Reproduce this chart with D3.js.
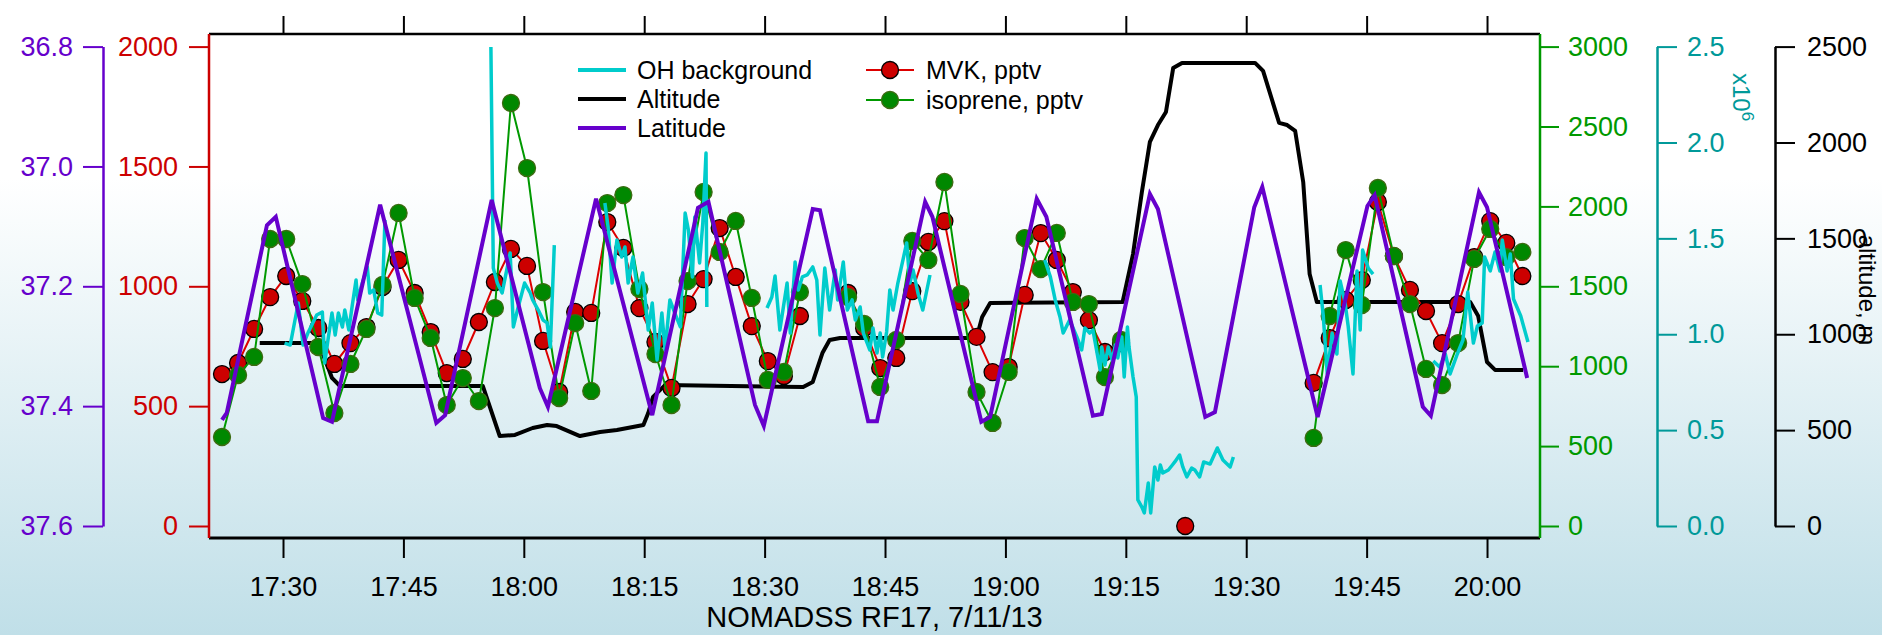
<!DOCTYPE html>
<html>
<head>
<script src="https://cdnjs.cloudflare.com/ajax/libs/d3/7.8.5/d3.min.js"></script>
<style>
  body { margin: 0; }
  svg text { font-family: "Liberation Sans", Arial, Helvetica, sans-serif; }
</style>
</head>
<body>
<script>
// all times are minutes after 17:00 UTC, 11 July 2013
var timeTicks = ["17:30", "17:45", "18:00", "18:15", "18:30", "18:45", "19:00", "19:15", "19:30", "19:45", "20:00"];

var chemTime = [22.4, 24.4, 26.4, 28.4, 30.4, 32.4, 34.4, 36.4, 38.4, 40.4, 42.4, 44.4, 46.4, 48.4, 50.4,
  52.4, 54.4, 56.4, 58.4, 60.4, 62.4, 64.4, 66.4, 68.4, 70.4, 72.4, 74.4, 76.4, 78.4, 80.4, 82.4, 84.4,
  86.4, 88.4, 90.4, 92.4, 94.4, 96.4, 98.4, 100.4, 102.4, 104.4, 106.4, 108.4, 110.4, 112.4, 114.4, 116.4,
  118.4, 120.4, 122.4, 124.4, 126.4, 128.4, 130.4, 132.4, 134.4, 136.4, 138.4, 140.4, 142.4, 144.4, 146.4,
  148.4, 150.4, 152.4, 154.4, 156.4, 158.4, 160.4, 162.4, 164.4, 166.4, 168.4, 170.4, 172.4, 174.4, 176.4,
  178.4, 180.4, 182.4, 184.4];

var mvk = [634, 680, 822, 955, 1043, 939, 826, 676, 763, 830, 997, 1110, 972, 809, 638,
  697, 851, 1018, 1156, 1085, 772, 559, 893, 889, 1268, 1160, 909, 768, 576, 926, 1030, 1243,
  1039, 834, 688, 626, 876, null, null, 972, 826, 659, 701, 980, 1185, 1272, 935, 789,
  642, 663, 964, 1222, 1110, 976, 859, 726, 763, null, null, null, 0, null, null,
  null, null, null, null, null, 597, 784, 943, 1026, 1352, 1126, 985, 897, 763, 926,
  1122, 1272, 1181, 1043];

var isoprene = [557, 945, 1058, 1796, 1796, 1514, 1120, 707, 1014, 1233, 1508, 1959, 1427, 1177, 757,
  926, 782, 1364, 2647, 2240, 1464, 801, 1270, 845, 2021, 2071, 1483, 1076, 757, 1533, 2090, 1715,
  1909, 1427, 914, 964, 1464, null, null, 1433, 1264, 870, 1164, 1784, 1665, 2153, 1452, 839,
  645, 964, 1802, 1608, 1834, 1402, 1389, 932, 1164, null, null, null, null, null, null,
  null, null, null, null, null, 551, 1314, 1727, 1383, 2115, 1690, 1389, 983, 882, 1145,
  1671, 1859, 1683, 1715];

var latTime = [22.4, 23.0, 28.0, 29.1, 35.0, 36.1, 42.1, 49.1, 50.2, 56.0, 62.0, 63.0, 69.0, 76.0,
  81.7, 83.0, 88.8, 89.9, 96.0, 96.9, 102.9, 104.0, 110.0, 110.9, 117.0, 118.1, 123.9, 125.1,
  130.9, 132.0, 138.0, 139.0, 144.9, 146.1, 151.0, 152.0, 158.9, 165.1, 166.0, 172.0, 173.0,
  179.0, 180.0, 185.0];
var latitude = [37.423, 37.411, 37.098, 37.084, 37.420, 37.426, 37.064, 37.428, 37.415, 37.056,
  37.370, 37.401, 37.054, 37.415, 37.069, 37.059, 37.398, 37.433, 37.071, 37.073, 37.425, 37.425,
  37.059, 37.084, 37.426, 37.418, 37.054, 37.084, 37.416, 37.413, 37.046, 37.071, 37.418, 37.410,
  37.068, 37.034, 37.418, 37.066, 37.048, 37.401, 37.416, 37.043, 37.068, 37.353];

var altTime = [27.1, 34.0, 34.6, 35.6, 36.1, 37.1, 54.9, 57.0, 58.9, 61.1, 62.9, 64.1, 67.0, 69.5,
  71.6, 74.9, 75.5, 76.1, 77.6, 94.8, 96.0, 97.2, 98.1, 99.4, 115.6, 116.5, 117.1, 118.1, 134.6,
  135.9, 137.0, 138.0, 139.0, 140.0, 140.9, 142.0, 151.1, 152.1, 154.1, 155.1, 156.1, 157.1,
  157.9, 158.8, 177.9, 178.9, 180.0, 181.0, 184.5];
var altitude = [954, 954, 933, 829, 772, 730, 730, 469, 475, 511, 527, 521, 469, 490,
  501, 527, 589, 673, 735, 725, 751, 902, 970, 980, 980, 996, 1090, 1163, 1168,
  1418, 1742, 2003, 2091, 2159, 2388, 2415, 2415, 2373, 2102, 2091, 2060, 1794,
  1314, 1168, 1168, 1095, 855, 814, 814];

// OH background, x10^6 molec/cm3; null marks a gap in the record
var ohTime = [30.2, 30.9, 31.9, 32.5, 33.1, 34.2, 34.9, 35.2, 35.6, 36.1, 36.5, 36.9, 37.4, 37.7,
  38.2, 38.6, 39.1, 39.3, 39.8, 40.5, 40.8, 41.3, 41.8, 42.3, 42.7, 49,
  55.9, 56.2, 56.7, 57.3, 57.7, 58.3, 58.7, 59.3, 60.1, 60.8, 61.1, 61.8, 62.4, 62.9, 63.3, 63.8, 67,
  70.1, 70.5, 71.0, 71.6, 72.2, 72.6, 73.0, 73.6, 74.2, 74.8, 75.5, 76.0, 76.6, 77.2, 77.6, 78.2,
  78.8, 79.5, 80.1, 80.5, 81.0, 81.3, 81.9, 82.3, 82.7, 82.8, 86,
  90.3, 90.9, 91.3, 91.9, 92.8, 93.2, 93.8, 94.2, 94.7, 95.3, 96.0, 96.5, 96.9, 97.5, 98.1, 98.8,
  99.1, 99.8, 100.3, 100.9, 101.3, 101.9, 102.3, 103.1, 103.5, 104.0, 104.4, 104.7, 105.2, 105.6,
  106.0, 106.6, 107.7, 108.1, 108.5, 109.1, 109.7, 110.6, 117,
  124.9, 125.6, 126.2, 126.8, 127.2, 128.0, 128.9, 129.5, 129.9, 130.5, 130.9, 131.4, 131.8, 132.0,
  132.4, 132.8, 133.3, 133.7, 134.0, 134.5, 134.8, 135.2, 135.4, 135.9, 136.3, 136.5, 137.0, 137.3,
  137.8, 138.1, 138.6, 139.0, 139.3, 139.6, 140.3, 140.8, 141.1, 141.7, 142.1, 142.6, 143.2, 143.6,
  144.2, 144.7, 145.5, 146.4, 147.1, 148.0, 148.4, 152,
  159.2, 159.6, 160.1, 160.7, 161.3, 161.7, 162.3, 162.7, 163.3, 163.8, 164.2, 164.5, 165.2, 165.8, 170,
  173.3, 174.1, 174.8, 175.4, 176.3, 177.0, 177.6, 178.3, 178.8, 179.4, 179.7, 180.4, 181.0, 181.6,
  181.9, 182.5, 182.9, 183.3, 184.2, 185.1];
var ohValue = [0.954, 0.944, 1.163, 0.944, 1.006, 1.100, 1.116, 0.850, 0.970, 1.111, 0.996, 1.111, 1.038, 1.126,
  1.022, 1.142, 1.283, 1.179, 1.257, 1.351, 1.215, 1.231, 1.111, 1.100, 1.596, null,
  2.498, 1.345, 1.267, 1.215, 1.299, 1.424, 1.038, 1.142, 1.267, 1.215, 1.179, 1.126, 1.074, 1.059, 0.933, 1.465, null,
  1.684, 1.559, 1.267, 1.492, 1.403, 1.455, 1.267, 1.403, 1.215, 1.319, 1.022, 1.163, 0.866, 1.111, 0.918, 1.179,
  1.111, 1.038, 1.632, 1.544, 1.299, 1.611, 1.372, 1.580, 1.945, 1.142, null,
  1.137, 1.194, 1.304, 1.022, 1.267, 1.006, 1.377, 1.231, 1.299, 1.309, 1.351, 1.283, 0.996, 1.345, 1.126, 1.335,
  1.179, 1.377, 1.126, 1.179, 1.074, 1.142, 1.006, 0.918, 1.033, 0.902, 1.006, 0.881, 1.012, 1.231,
  1.126, 1.267, 1.476, 1.267, 1.335, 1.215, 1.126, 1.309, null,
  1.387, 1.299, 1.179, 1.090, 1.006, 1.074, 0.986, 0.918, 1.033, 1.006, 1.022, 0.907, 0.814, 0.933,
  0.840, 0.933, 0.866, 0.944, 0.876, 0.986, 0.777, 1.038, 0.933, 0.777, 0.673, 0.136, 0.099, 0.068,
  0.224, 0.068, 0.308, 0.240, 0.318, 0.276, 0.292, 0.318, 0.334, 0.370, 0.308, 0.256, 0.302, 0.292,
  0.256, 0.334, 0.323, 0.407, 0.344, 0.308, 0.360, null,
  1.257, 1.095, 0.793, 1.006, 0.897, 1.278, 1.168, 1.043, 0.793, 1.330, 1.022, 1.439, 1.345, 1.314, null,
  0.860, 0.829, 0.897, 0.793, 0.897, 0.970, 1.220, 0.954, 1.043, 1.059, 1.403, 1.330, 1.429, 1.330,
  1.492, 1.330, 1.418, 1.184, 1.095, 0.960];

var W = 1882, H = 635;
var L = 209, R = 1540, T = 34, B = 538;
var Y0 = 526, Y1 = 46.6;

var purple = "#6600cc", red = "#cc0000", green = "#009900", teal = "#009999",
    cyan = "#00cccc";

var base = Date.UTC(2013, 6, 11, 17, 0);
function at(m) { return new Date(base + m * 60000); }
function hm(s) { var p = s.split(":"); return at(+p[0] * 60 + +p[1] - 17 * 60); }

var x = d3.scaleUtc().domain([at(20.78), at(186.6)]).range([L, R]);
var yMvk = d3.scaleLinear().domain([0, 2000]).range([Y0, Y1]);
var yIso = d3.scaleLinear().domain([0, 3000]).range([Y0, Y1]);
var yAlt = d3.scaleLinear().domain([0, 2500]).range([Y0, Y1]);
var yOH = d3.scaleLinear().domain([0, 2.5]).range([Y0, Y1]);
var yLat = d3.scaleLinear().domain([37.6, 36.8]).range([Y0, Y1]);

var svg = d3.select("body").append("svg").attr("width", W).attr("height", H);

var grad = svg.append("defs").append("linearGradient")
    .attr("id", "bg").attr("x1", 0).attr("y1", 0).attr("x2", 0).attr("y2", 1);
grad.append("stop").attr("offset", 0).attr("stop-color", "#ffffff");
grad.append("stop").attr("offset", 0.28).attr("stop-color", "#ffffff");
grad.append("stop").attr("offset", 1).attr("stop-color", "#c0dfe8");
svg.select("defs").append("clipPath").attr("id", "plot")
    .append("rect").attr("x", L).attr("y", T).attr("width", R - L).attr("height", B - T);

svg.append("rect").attr("width", W).attr("height", H).attr("fill", "url(#bg)");

var intFmt = d3.format("d");

function styleAxis(g, color) {
  g.selectAll("path").attr("stroke", color).attr("stroke-width", 2.5);
  g.selectAll(".tick line").attr("stroke", color).attr("stroke-width", 2);
  g.selectAll("text").attr("fill", color).style("font-size", "27px");
}

// time axes
var tickDates = timeTicks.map(hm);
svg.append("g").attr("transform", "translate(0," + B + ")")
    .call(d3.axisBottom(x).tickValues(tickDates).tickFormat(d3.utcFormat("%H:%M"))
      .tickSize(20).tickPadding(19).tickSizeOuter(0))
    .call(function (g) { styleAxis(g, "#000"); g.select(".domain").remove(); });
svg.append("g").attr("transform", "translate(0," + T + ")")
    .call(d3.axisTop(x).tickValues(tickDates).tickFormat("").tickSize(18).tickSizeOuter(0))
    .call(function (g) { styleAxis(g, "#000"); g.select(".domain").remove(); });

// frame
svg.append("line").attr("x1", L).attr("x2", R).attr("y1", T).attr("y2", T)
    .attr("stroke", "#000").attr("stroke-width", 2.5);
svg.append("line").attr("x1", L).attr("x2", R).attr("y1", B).attr("y2", B)
    .attr("stroke", "#000").attr("stroke-width", 3);

// left axes
svg.append("g").attr("transform", "translate(103,0)")
    .call(d3.axisLeft(yLat).tickValues([36.8, 37.0, 37.2, 37.4, 37.6]).tickFormat(d3.format(".1f"))
      .tickSize(20).tickPadding(10).tickSizeOuter(0))
    .call(function (g) { styleAxis(g, purple); });
svg.append("g").attr("transform", "translate(" + L + ",0)")
    .call(d3.axisLeft(yMvk).tickValues([0, 500, 1000, 1500, 2000]).tickFormat(intFmt)
      .tickSize(20).tickPadding(11))
    .call(function (g) { styleAxis(g, red); g.select(".domain").remove(); });
svg.append("line").attr("x1", L).attr("x2", L).attr("y1", T).attr("y2", B)
    .attr("stroke", red).attr("stroke-width", 2.5);

// right axes
svg.append("g").attr("transform", "translate(" + R + ",0)")
    .call(d3.axisRight(yIso).tickValues([0, 500, 1000, 1500, 2000, 2500, 3000]).tickFormat(intFmt)
      .tickSize(19).tickPadding(9))
    .call(function (g) { styleAxis(g, green); g.select(".domain").remove(); });
svg.append("line").attr("x1", R).attr("x2", R).attr("y1", T).attr("y2", B)
    .attr("stroke", green).attr("stroke-width", 2.5);
svg.append("g").attr("transform", "translate(1657,0)")
    .call(d3.axisRight(yOH).tickValues([0, 0.5, 1, 1.5, 2, 2.5]).tickFormat(d3.format(".1f"))
      .tickSize(20).tickPadding(10).tickSizeOuter(0))
    .call(function (g) { styleAxis(g, teal); });
svg.append("g").attr("transform", "translate(1775,0)")
    .call(d3.axisRight(yAlt).tickValues([0, 500, 1000, 1500, 2000, 2500]).tickFormat(intFmt)
      .tickSize(20).tickPadding(12).tickSizeOuter(0))
    .call(function (g) { styleAxis(g, "#000"); });

var ex = svg.append("text").attr("transform", "translate(1733,73) rotate(90)")
    .attr("fill", teal).style("font-size", "24px");
ex.append("tspan").text("x10");
ex.append("tspan").attr("dy", "-0.55em").style("font-size", "17px").text("6");

svg.append("text").attr("transform", "translate(1859,290) rotate(90)")
    .attr("text-anchor", "middle").style("font-size", "24px").attr("fill", "#000")
    .text("altitude, m");

svg.append("text").attr("x", (L + R) / 2).attr("y", 627).attr("text-anchor", "middle")
    .style("font-size", "29px").attr("fill", "#000").text("NOMADSS RF17, 7/11/13");

// series
var plot = svg.append("g").attr("clip-path", "url(#plot)");

function series(times, vals) {
  return times.map(function (t, i) { return { t: at(t), v: vals[i] }; });
}
function lineOf(y) {
  return d3.line().defined(function (d) { return d.v != null; })
    .x(function (d) { return x(d.t); }).y(function (d) { return y(d.v); });
}

plot.append("path").datum(series(altTime, altitude))
    .attr("d", lineOf(yAlt)).attr("fill", "none").attr("stroke", "#000")
    .attr("stroke-width", 4).attr("stroke-linejoin", "round");

var mvkData = series(chemTime, mvk);
plot.append("path").datum(mvkData).attr("d", lineOf(yMvk))
    .attr("fill", "none").attr("stroke", "#dd0000").attr("stroke-width", 2);
plot.selectAll("circle.mvk").data(mvkData.filter(function (d) { return d.v != null; }))
  .enter().append("circle").attr("class", "mvk")
    .attr("cx", function (d) { return x(d.t); }).attr("cy", function (d) { return yMvk(d.v); })
    .attr("r", 8.5).attr("fill", red).attr("stroke", "#000").attr("stroke-width", 1.3);

var isoData = series(chemTime, isoprene);
plot.append("path").datum(isoData).attr("d", lineOf(yIso))
    .attr("fill", "none").attr("stroke", green).attr("stroke-width", 2);
plot.selectAll("circle.iso").data(isoData.filter(function (d) { return d.v != null; }))
  .enter().append("circle").attr("class", "iso")
    .attr("cx", function (d) { return x(d.t); }).attr("cy", function (d) { return yIso(d.v); })
    .attr("r", 8.5).attr("fill", "#008800").attr("stroke", "#3d6b12").attr("stroke-width", 1.3);

plot.append("path").datum(series(ohTime, ohValue))
    .attr("d", lineOf(yOH)).attr("fill", "none").attr("stroke", cyan)
    .attr("stroke-width", 3.5).attr("stroke-linejoin", "round");

plot.append("path").datum(series(latTime, latitude))
    .attr("d", lineOf(yLat)).attr("fill", "none").attr("stroke", purple)
    .attr("stroke-width", 4);

// legend
var legLeft = [["OH background", cyan], ["Altitude", "#000"], ["Latitude", purple]];
var legRight = [["MVK, pptv", "#dd0000", red, "#000"], ["isoprene, pptv", green, "#008800", "#3d6b12"]];
var leg = svg.append("g").style("font-size", "25px");
legLeft.forEach(function (d, i) {
  var yy = 70 + i * 29;
  leg.append("line").attr("x1", 578).attr("x2", 626).attr("y1", yy).attr("y2", yy)
      .attr("stroke", d[1]).attr("stroke-width", 4);
  leg.append("text").attr("x", 637).attr("y", yy).attr("dy", "0.35em").attr("fill", "#000").text(d[0]);
});
legRight.forEach(function (d, i) {
  var yy = 70 + i * 30;
  leg.append("line").attr("x1", 866).attr("x2", 914).attr("y1", yy).attr("y2", yy)
      .attr("stroke", d[1]).attr("stroke-width", 2);
  leg.append("circle").attr("cx", 890).attr("cy", yy).attr("r", 8.5)
      .attr("fill", d[2]).attr("stroke", d[3]).attr("stroke-width", 1.3);
  leg.append("text").attr("x", 926).attr("y", yy).attr("dy", "0.35em").attr("fill", "#000").text(d[0]);
});
</script>
</body>
</html>
